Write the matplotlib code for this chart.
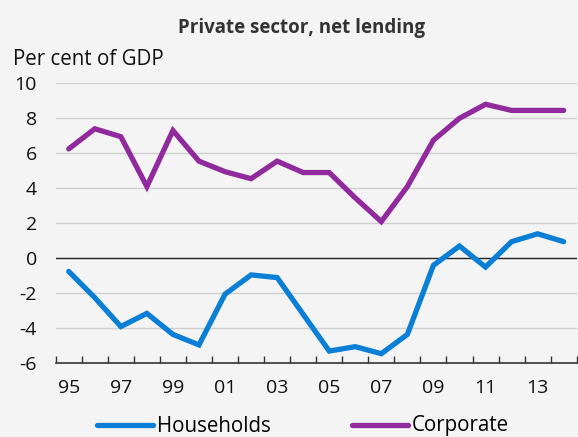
import matplotlib
matplotlib.use("Agg")
import matplotlib.pyplot as plt
import numpy as np

plt.rc('font', family=['Open Sans', 'DejaVu Sans'])
plt.rc('font', size=14)

# data, per cent of GDP
years = list(range(1995, 2015))
households = [-0.75, -2.25, -3.9, -3.15, -4.35, -4.95, -2.05, -0.95, -1.1, -3.2,
              -5.3, -5.05, -5.45, -4.35, -0.4, 0.7, -0.5, 0.95, 1.4, 0.95]
corporate = [6.25, 7.4, 6.95, 4.1, 7.3, 5.55, 4.95, 4.55, 5.55, 4.9,
             4.9, 3.45, 2.1, 4.1, 6.75, 8.0, 8.8, 8.45, 8.45, 8.45]
year_labels = ["95", "97", "99", "01", "03", "05", "07", "09", "11", "13"]
yticks = [-6, -4, -2, 0, 2, 4, 6, 8, 10]

blue = "#0a7fd5"
purple = "#902a9d"
bg = "#f4f4f4"

fig = plt.figure(figsize=(5.78, 4.37), dpi=100, facecolor=bg)
ax = fig.add_axes([55.7/578, 1-363.3/437, 521/578, 280/437], facecolor=bg)

x = np.arange(len(years))
ax.plot(x, households, color=blue, lw=3.8, label="Households", solid_capstyle='round', solid_joinstyle='miter', zorder=3)
ax.plot(x, corporate, color=purple, lw=3.8, label="Corporate", solid_capstyle='round', solid_joinstyle='miter', zorder=3)

ax.set_xlim(-0.5, len(years) - 0.5)
ax.set_ylim(-6, 10)

# gridlines
for v in yticks[1:]:
    if v == 0:
        ax.axhline(0, color="#222222", lw=1.0, zorder=2)
    else:
        ax.axhline(v, color="#cfcfcf", lw=1.0, zorder=1)

ax.set_yticks(yticks)
ax.set_yticklabels([str(v) for v in yticks])
ax.tick_params(axis='y', length=0, pad=13.5, labelsize=14, colors="#111111")

ax.set_xticks(np.arange(-0.5, len(years), 1.0))
ax.set_xticklabels([])
ax.set_xticks(x[::2], minor=True)
ax.set_xticklabels(year_labels, minor=True)
ax.tick_params(axis='x', which='major', direction='in', length=5, width=1, color="#333333")
ax.tick_params(axis='x', which='minor', length=0, pad=11, labelsize=14, colors="#111111")

for s in ['top', 'right', 'left']:
    ax.spines[s].set_visible(False)
ax.spines['bottom'].set_color("#333333")
ax.spines['bottom'].set_linewidth(1.2)

fig.text(302/578, 1-33/437, "Private sector, net lending", ha='center', va='baseline',
         fontsize=13.5, fontweight='bold', color="#333333")
fig.text(13/578, 1-65/437, "Per cent of GDP", ha='left', va='baseline', fontsize=14.8, color="#111111")

fig.legend(loc='center', bbox_to_anchor=(303/578, 1-426/437), ncol=2, frameon=False,
           handlelength=2.72, handletextpad=0.2, columnspacing=3.98, fontsize=14.8,
           handleheight=0.5)

fig.savefig("out.png", dpi=100, facecolor=bg)
